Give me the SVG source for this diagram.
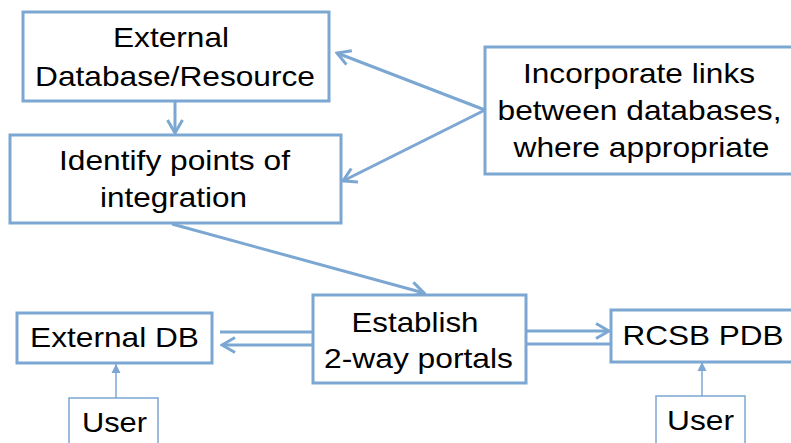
<svg xmlns="http://www.w3.org/2000/svg" width="791" height="443" viewBox="0 0 791 443">
<defs>
<style>
.box{fill:#ffffff;stroke:#7BA7D2;stroke-width:3}
.ubox{fill:#ffffff;stroke:#7BA7D2;stroke-width:1.5}
.conn{fill:none;stroke:#7BA7D2;stroke-width:3}
.thin{fill:none;stroke:#7BA7D2;stroke-width:1.5}
text{font-family:"Liberation Sans",Arial,sans-serif;font-size:28px;fill:#000000;text-anchor:middle}
</style>
<marker id="open" viewBox="-16 -10 18 20" refX="0" refY="0" markerWidth="18" markerHeight="20" markerUnits="userSpaceOnUse" orient="auto">
<path d="M-13,-7.5 L0,0 L-13,7.5" fill="none" stroke="#7BA7D2" stroke-width="3"/>
</marker>
<marker id="tri" viewBox="-10 -6 11 12" refX="0" refY="0" markerWidth="11" markerHeight="12" markerUnits="userSpaceOnUse" orient="auto">
<path d="M-9,-4.5 L0,0 L-9,4.5 Z" fill="#7BA7D2"/>
</marker>
</defs>
<g id="connectors">
<line class="conn" x1="175" y1="101" x2="175" y2="133" marker-end="url(#open)"/>
<line class="conn" x1="485" y1="110" x2="337" y2="53" marker-end="url(#open)"/>
<line class="conn" x1="485" y1="110" x2="343" y2="181" marker-end="url(#open)"/>
<line class="conn" x1="172" y1="224" x2="424" y2="293" marker-end="url(#open)"/>
<line class="conn" x1="313" y1="332" x2="220" y2="332"/>
<line class="conn" x1="313" y1="345" x2="222" y2="345" marker-end="url(#open)"/>
<line class="conn" x1="526" y1="331" x2="609" y2="331" marker-end="url(#open)"/>
<line class="conn" x1="526" y1="344" x2="611" y2="344"/>
<line class="thin" x1="116" y1="398" x2="116" y2="364" marker-end="url(#tri)"/>
<line class="thin" x1="702" y1="396" x2="702" y2="362" marker-end="url(#tri)"/>
</g>
<g id="external-resource">
<rect class="box" x="23" y="12" width="306" height="89"/>
<text x="171" y="47" textLength="116" lengthAdjust="spacingAndGlyphs">External</text>
<text x="175" y="86" textLength="280" lengthAdjust="spacingAndGlyphs">Database/Resource</text>
</g>
<g id="identify-points">
<rect class="box" x="10" y="135" width="331" height="88"/>
<text x="174.5" y="170" textLength="231" lengthAdjust="spacingAndGlyphs">Identify points of</text>
<text x="173.5" y="207" textLength="147" lengthAdjust="spacingAndGlyphs">integration</text>
</g>
<g id="incorporate-links">
<rect class="box" x="485" y="47" width="312" height="127"/>
<text x="639" y="83" textLength="232" lengthAdjust="spacingAndGlyphs">Incorporate links</text>
<text x="639.5" y="120" textLength="284" lengthAdjust="spacingAndGlyphs">between databases,</text>
<text x="641.5" y="157" textLength="256" lengthAdjust="spacingAndGlyphs">where appropriate</text>
</g>
<g id="establish-portals">
<rect class="box" x="313" y="295" width="213" height="88"/>
<text x="415" y="332" textLength="127" lengthAdjust="spacingAndGlyphs">Establish</text>
<text x="418.5" y="368" textLength="189" lengthAdjust="spacingAndGlyphs">2-way portals</text>
</g>
<g id="external-db">
<rect class="box" x="17" y="313" width="195" height="50"/>
<text x="114.5" y="347" textLength="169" lengthAdjust="spacingAndGlyphs">External DB</text>
</g>
<g id="rcsb-pdb">
<rect class="box" x="611" y="310" width="186" height="52"/>
<text x="703" y="345" textLength="161" lengthAdjust="spacingAndGlyphs">RCSB PDB</text>
</g>
<g id="user-left">
<rect class="ubox" x="69" y="398" width="89" height="60"/>
<text x="114.5" y="432" textLength="65" lengthAdjust="spacingAndGlyphs">User</text>
</g>
<g id="user-right">
<rect class="ubox" x="656" y="396" width="89" height="60"/>
<text x="700.5" y="430" textLength="67" lengthAdjust="spacingAndGlyphs">User</text>
</g>
</svg>
